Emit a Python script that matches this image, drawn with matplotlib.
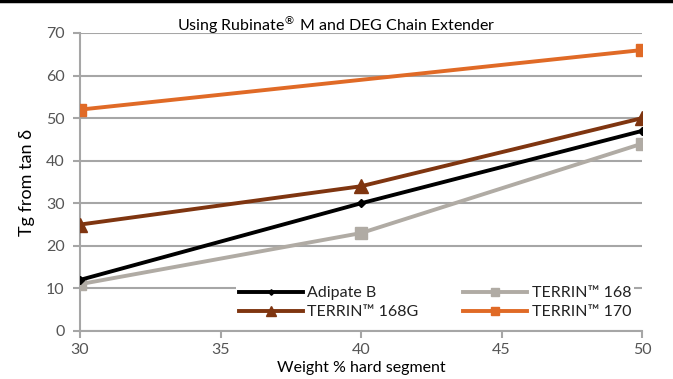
import matplotlib
matplotlib.use("Agg")
import matplotlib.pyplot as plt
from matplotlib.lines import Line2D

# ---- DATA ----
x_main      = [30, 40, 50]
adipate_b   = [12, 30, 47]
terrin_168  = [11, 23, 44]
terrin_168g = [25, 34, 50]
x_170       = [30, 50]
terrin_170  = [52, 66]
x_ticks     = [30, 35, 40, 45, 50]
y_ticks     = [0, 10, 20, 30, 40, 50, 60, 70]
# --------------

plt.rcParams['font.family'] = ['Lato', 'DejaVu Sans']

fig = plt.figure(figsize=(6.73, 3.79), dpi=100)
ax = fig.add_axes([80 / 673, 48 / 379, 562 / 673, 298 / 379])

grid_c = '#a6a6a6'
ax.plot(x_main, adipate_b, color='black', lw=2.8, marker='D', ms=4,
        label='Adipate B', zorder=5)
ax.plot(x_main, terrin_168, color='#b0aba4', lw=2.8, marker='s', ms=9,
        label='TERRIN™ 168', zorder=4)
ax.plot(x_main, terrin_168g, color='#7f3510', lw=2.8, marker='^', ms=10,
        label='TERRIN™ 168G', zorder=4)
ax.plot(x_170, terrin_170, color='#e06a26', lw=2.8, marker='s', ms=9,
        label='TERRIN™ 170', zorder=4)

ax.set_xlim(30, 50)
ax.set_ylim(0, 70)
ax.set_xticks(x_ticks)
ax.set_yticks(y_ticks)
ax.grid(axis='y', color=grid_c, lw=1.5)
ax.set_axisbelow(True)
for s in ['top', 'right']:
    ax.spines[s].set_visible(False)
for s in ['left', 'bottom']:
    ax.spines[s].set_color(grid_c)
    ax.spines[s].set_linewidth(1.5)
ax.tick_params(colors=grid_c, width=1.5, length=5, labelcolor='#555555',
               labelsize=11.5)
ax.tick_params(axis='y', pad=6)

ax.set_xlabel('Weight % hard segment', fontsize=11.5, labelpad=3)
ax.set_ylabel('Tg from tan δ', fontsize=13, labelpad=8)
fig.text(0.5, 0.935, 'Using Rubinate$^{\u00ae}$ M and DEG Chain Extender',
         ha='center', va='center', fontsize=11.5)

handles, labels = ax.get_legend_handles_labels()
order = [0, 2, 1, 3]
leg = ax.legend([handles[i] for i in order], [labels[i] for i in order],
                ncol=2, loc='lower right', bbox_to_anchor=(1.0, 0.005),
                frameon=True, fancybox=False, edgecolor='none',
                framealpha=1, fontsize=11.5, handlelength=4.0,
                handletextpad=0.3, columnspacing=2.8, labelspacing=0.3,
                borderpad=0.15, markerscale=0.7)
for t in leg.get_texts():
    t.set_color('#222222')

# black rule along the top edge
fig.add_artist(Line2D([0, 1], [0.997, 0.997], color='black', lw=2.5,
                      transform=fig.transFigure))

fig.savefig('out.png', dpi=100)
